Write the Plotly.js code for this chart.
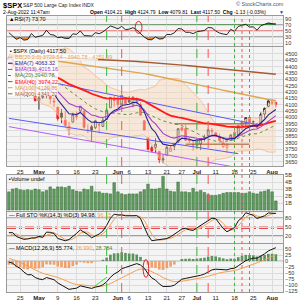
<!DOCTYPE html>
<html><head><meta charset="utf-8">
<script src="https://cdn.plot.ly/plotly-3.0.1.min.js"></script>
<style>html,body{margin:0;padding:0;background:#fff}#chart{width:300px;height:300px}</style>
</head><body><div id="chart"></div>
<script>
const dates = ['Apr 20','Apr 21','Apr 22','Apr 25','Apr 26','Apr 27','Apr 28','Apr 29',
'May 2','May 3','May 4','May 5','May 6','May 9','May 10','May 11','May 12','May 13','May 16','May 17','May 18','May 19','May 20','May 23','May 24','May 25','May 26','May 27','May 31',
'Jun 1','Jun 2','Jun 3','Jun 6','Jun 7','Jun 8','Jun 9','Jun 10','Jun 13','Jun 14','Jun 15','Jun 16','Jun 17','Jun 21','Jun 22','Jun 23','Jun 24','Jun 27','Jun 28','Jun 29','Jun 30',
'Jul 1','Jul 5','Jul 6','Jul 7','Jul 8','Jul 11','Jul 12','Jul 13','Jul 14','Jul 15','Jul 18','Jul 19','Jul 20','Jul 21','Jul 22','Jul 25','Jul 26','Jul 27','Jul 28','Jul 29',
'Aug 1','Aug 2'];
const openP = [4472,4489,4385,4255,4278,4187,4223,4253,4131,4159,4181,4270,4129,4081,4035,3978,3904,3963,4013,4052,4052,3899,3927,3920,3942,3929,3985,4077,4151,4150,4096,4137,4135,4097,4148,4102,3975,3839,3763,3764,3733,3665,3702,3733,3774,3804,3920,3913,3825,3785,3782,3792,3831,3858,3889,3880,3851,3771,3764,3818,3883,3860,3935,3955,4000,3965,3953,3951,4027,4087,4113,4104.21];
const highP = [4488,4512,4386,4299,4278,4240,4308,4270,4169,4200,4308,4270,4157,4082,4068,4050,3965,4038,4046,4089,4052,3945,3943,3981,3956,3999,4076,4158,4169,4167,4177,4142,4168,4164,4160,4119,3975,3839,3778,3838,3733,3708,3779,3784,3796,3913,3927,3945,3836,3818,3829,3832,3865,3910,3918,3880,3873,3839,3796,3864,3902,3939,3975,3999,4013,3975,3954,4040,4078,4141,4144,4124.79];
const lowP = [4448,4384,4267,4200,4175,4163,4188,4128,4062,4147,4152,4107,4081,3975,3958,3928,3859,3963,3983,4033,3912,3877,3810,3909,3875,3925,3985,4077,4083,4074,4074,4099,4110,4080,4107,4017,3901,3740,3725,3722,3640,3640,3702,3730,3742,3804,3889,3820,3799,3738,3752,3743,3811,3858,3869,3847,3813,3759,3721,3818,3818,3860,3930,3927,3939,3943,3911,3947,3992,4080,4097,4079.81];
const closeP = [4459,4393,4272,4297,4175,4183,4288,4132,4155,4175,4300,4147,4123,3991,4001,3935,3930,4024,4008,4089,3923,3901,3901,3974,3941,3979,4058,4158,4132,4101,4176,4109,4121,4161,4116,4018,3901,3750,3735,3790,3667,3675,3765,3760,3796,3912,3901,3821,3819,3785,3825,3831,3845,3903,3899,3855,3819,3801,3790,3863,3831,3937,3960,3999,3962,3967,3921,4024,4072,4130,4119,4117.5];
const prevClose = 4463;
const volumeB = [2.6,3.0,3.1,2.9,2.8,2.9,2.8,3.0,2.9,2.6,2.8,3.3,3.0,3.3,3.3,3.2,3.4,2.9,2.7,2.6,3.0,2.9,3.4,2.6,2.6,2.4,2.4,2.3,3.9,2.6,2.3,2.2,2.3,2.3,2.3,2.6,2.9,3.7,3.0,3.0,3.1,4.8,3.0,2.7,2.6,4.0,2.6,2.6,2.5,3.1,2.6,2.8,2.5,2.2,2.1,2.1,2.2,2.4,2.5,2.5,2.5,2.5,2.4,2.4,2.6,2.4,2.3,2.6,2.7,2.9,2.6,1.3];
const ema7 = [4437,4426,4388,4365,4318,4284,4285,4247,4224,4212,4234,4212,4190,4140,4105,4063,4029,4028,4023,4040,4010,3983,3963,3965,3959,3964,3988,4030,4056,4067,4094,4098,4104,4118,4118,4093,4045,3971,3912,3882,3828,3790,3784,3778,3783,3815,3837,3833,3829,3818,3820,3823,3829,3847,3860,3859,3849,3837,3825,3835,3834,3860,3885,3913,3925,3936,3932,3955,3984,4021,4045,4063];
const ema13 = [4464,4454,4428,4409,4376,4348,4340,4310,4288,4272,4276,4258,4238,4203,4174,4140,4110,4098,4085,4086,4062,4039,4019,4013,4003,4000,4008,4030,4044,4052,4070,4076,4082,4093,4096,4085,4059,4015,3975,3949,3908,3875,3859,3845,3838,3849,3856,3851,3846,3838,3836,3835,3837,3846,3854,3854,3849,3842,3835,3839,3838,3852,3867,3886,3897,3907,3909,3926,3947,3974,3996,4015];
const ma20 = [4497,4494,4482,4469,4449,4427,4411,4391,4372,4351,4340,4323,4305,4280,4259,4236,4210,4192,4173,4154,4127,4103,4084,4068,4056,4046,4034,4036,4035,4031,4025,4023,4023,4031,4037,4041,4040,4026,4012,3997,3985,3973,3966,3956,3948,3945,3937,3920,3905,3889,3871,3858,3844,3831,3820,3812,3808,3810,3813,3817,3825,3838,3848,3860,3868,3871,3872,3882,3895,3912,3926,3941];
const ema40 = [4427,4425,4418,4412,4400,4390,4385,4372,4362,4353,4350,4340,4329,4313,4298,4280,4263,4251,4239,4232,4217,4202,4187,4176,4165,4156,4151,4151,4150,4148,4149,4147,4147,4148,4146,4140,4130,4111,4093,4079,4059,4041,4028,4015,4005,4001,3997,3989,3981,3972,3965,3959,3954,3953,3950,3946,3941,3935,3928,3926,3922,3923,3925,3930,3932,3935,3935,3940,3947,3957,3966,3974];
const ma100 = [4500,4496,4492,4487,4483,4479,4474,4470,4466,4461,4457,4453,4448,4444,4440,4435,4431,4427,4422,4418,4414,4409,4405,4401,4396,4392,4388,4383,4379,4375,4370,4366,4362,4357,4353,4349,4345,4340,4334,4328,4321,4315,4309,4302,4296,4290,4284,4277,4271,4265,4258,4252,4246,4240,4233,4227,4221,4214,4208,4202,4196,4189,4183,4177,4170,4164,4158,4152,4145,4139,4135,4130];
const ma200 = [4487,4486,4485,4484,4483,4482,4481,4480,4479,4478,4477,4476,4475,4473,4472,4470,4469,4467,4466,4464,4463,4461,4460,4458,4457,4455,4454,4452,4451,4449,4448,4446,4445,4443,4441,4439,4437,4435,4433,4430,4428,4425,4423,4420,4418,4415,4412,4410,4407,4404,4401,4398,4395,4392,4389,4386,4383,4380,4377,4374,4371,4368,4365,4362,4359,4357,4354,4351,4349,4346,4344,4341];
const bbUpper = [4635,4644,4672,4679,4679,4661,4641,4631,4616,4595,4582,4563,4549,4540,4535,4548,4540,4516,4487,4444,4397,4379,4358,4328,4306,4286,4254,4236,4225,4213,4203,4199,4199,4209,4217,4221,4216,4226,4242,4247,4291,4303,4306,4306,4308,4307,4287,4256,4229,4201,4171,4134,4088,4039,3990,3954,3946,3944,3943,3945,3937,3942,3958,3984,3994,3999,3992,4014,4051,4096,4126,4152];
const bbLower = [4359,4344,4292,4259,4219,4193,4181,4151,4128,4107,4098,4083,4061,4020,3983,3924,3880,3868,3859,3864,3857,3827,3810,3808,3806,3806,3814,3836,3845,3849,3847,3847,3847,3853,3857,3861,3864,3826,3782,3747,3678,3643,3626,3606,3588,3583,3587,3584,3581,3577,3571,3581,3600,3623,3650,3670,3670,3676,3683,3689,3713,3734,3738,3736,3742,3743,3752,3750,3739,3728,3726,3730];
const rsi7 = [44.3,33.6,22.2,28.1,19.6,21.5,41.6,28.8,32.4,35.6,52.5,38.2,36.4,27.9,29.4,25.4,25.1,40.5,38.9,50.3,34.8,33.2,33.2,44.6,40.9,46.8,57.2,66.8,62.5,57.5,65.4,54.7,56.2,61.2,53.3,40.1,29.8,21.5,20.8,30.2,23.1,24.4,38.6,38.1,43.8,58.2,56.6,45.8,45.6,41.1,48.1,49.2,51.8,61.6,60.6,50.3,43.2,40.0,37.9,55.5,48.5,65.4,68.1,72.3,63.1,63.8,52.7,67.5,72.2,76.9,74.2,73.7];
const stoK = [31.0,31.3,18.2,12.9,8.9,10.3,13.5,13.8,18.9,15.6,32.9,32.3,28.5,11.8,8.1,4.1,8.4,18.0,28.6,40.4,32.9,25.0,14.0,20.2,26.6,36.7,55.4,79.2,92.9,90.3,90.2,87.4,88.6,87.3,87.9,78.6,49.6,22.5,4.4,6.5,7.4,8.8,11.6,17.4,25.0,34.4,43.6,45.4,40.7,38.5,47.1,55.5,63.5,72.0,79.4,78.0,63.1,44.9,34.2,41.5,47.8,70.5,80.8,97.7,92.2,88.9,78.4,82.6,87.3,96.9,96.6,95.0];
const stoD = [20.1,26.7,26.8,20.8,13.3,10.7,10.9,12.5,15.4,16.1,22.5,26.9,31.2,24.2,16.1,8.0,6.9,10.2,18.3,29.0,34.0,32.8,24.0,19.7,20.3,27.8,39.6,57.1,75.8,87.5,91.1,89.3,88.7,87.8,87.9,84.6,72.0,50.2,25.5,11.1,6.1,7.6,9.3,12.6,18.0,25.6,34.3,41.1,43.2,41.5,42.1,47.0,55.4,63.7,71.6,76.5,73.5,62.0,47.4,40.2,41.2,53.3,66.4,83.0,90.2,92.9,86.5,83.3,82.8,88.9,93.6,96.2];
const macdLine = [-4.3,-8.9,-22.2,-30.3,-46.1,-57.2,-56.9,-68.5,-74.9,-77.5,-68.7,-73.2,-77.8,-91.1,-99.6,-110.5,-118.1,-115.2,-113.0,-103.4,-108.0,-112.1,-114.1,-108.5,-105.5,-98.9,-86.4,-67.6,-54.1,-45.4,-32.1,-26.7,-21.2,-13.5,-10.8,-16.4,-30.0,-52.3,-70.3,-79.3,-95.3,-106.1,-106.1,-105.3,-100.6,-86.6,-75.5,-72.3,-69.1,-68.5,-64.1,-59.5,-54.1,-44.6,-36.9,-34.0,-34.3,-35.5,-36.9,-31.8,-29.9,-19.6,-9.6,1.6,7.3,12.1,12.0,20.1,30.1,42.1,50.2,55.8];
const macdSignal = [11.1,7.1,1.2,-5.1,-13.3,-22.1,-29.1,-37.0,-44.6,-51.2,-54.7,-58.4,-62.3,-68.1,-74.4,-81.6,-88.9,-94.2,-97.9,-99.0,-100.8,-103.1,-105.3,-105.9,-105.8,-104.4,-100.8,-94.2,-86.2,-78.0,-68.8,-60.4,-52.6,-44.7,-38.0,-33.7,-32.9,-36.8,-43.5,-50.7,-59.6,-68.9,-76.3,-82.1,-85.8,-86.0,-83.9,-81.6,-79.1,-77.0,-74.4,-71.4,-67.9,-63.3,-58.0,-53.2,-49.4,-46.6,-44.7,-42.1,-39.7,-35.7,-30.5,-24.0,-17.8,-11.8,-7.0,-1.6,4.7,12.2,19.8,27.0];
const macdHist = [-15.4,-16.0,-23.4,-25.2,-32.8,-35.1,-27.8,-31.5,-30.3,-26.3,-14.0,-14.8,-15.5,-23.0,-25.2,-28.9,-29.2,-21.0,-15.1,-4.4,-7.2,-9.0,-8.8,-2.6,0.3,5.5,14.4,26.6,32.1,32.6,36.7,33.7,31.4,31.2,27.2,17.3,2.9,-15.5,-26.8,-28.6,-35.7,-37.2,-29.8,-23.2,-14.8,-0.6,8.4,9.3,10.0,8.5,10.3,11.9,13.8,18.7,21.1,19.2,15.1,11.1,7.8,10.3,9.8,16.1,20.9,25.6,25.1,23.9,19.0,21.7,25.4,29.9,30.4,28.8];
const tickDates = ['Apr 25','May 2','May 9','May 16','May 23','Jun 1','Jun 6','Jun 13','Jun 21','Jun 27','Jul 1','Jul 11','Jul 18','Jul 25','Aug 1'];
const tickText = ['25','<b>May</b>','9','16','23','<b>Jun</b>','6','13','21','27','<b>Jul</b>','11','18','25','<b>Aug</b>'];
const markerDates = ['May 26','Jun 2','Jul 1','Jul 7','Jul 18','Jul 20','Jul 22'];
const markerColors = ['#3cb83c','#ff5050','#3cb83c','#ff5050','#3cb83c','#ff5050','#ff5050'];
const markerDash = ['dash','dash','dash','dash','dot','dot','dot'];
const chanUpperX = ['May 4','Jul 26'], chanUpperY = [4285, 3944];
const chanLowerX = ['Apr 20','Jul 19'], chanLowerY = [3993, 3715];
const chanPurpleX = ['Apr 20','Jul 18'], chanPurpleY = [3928, 3610];
const resistX = ['Jun 23','Jul 22'], resistY = [3950, 3950];
const supportX = ['Jun 28','Jul 22'], supportY = [3790, 3790];
const priceTicks = [3650,3700,3750,3800,3850,3900,3950,4000,4050,4100,4150,4200,4250,4300,4350,4400,4450,4500];

const N = dates.length;
const idx = d => dates.indexOf(d);
const xi = dates.map((d,i)=>i);
const tickvals = tickDates.map(idx);

const groups = {up:{x:[],o:[],h:[],l:[],c:[]}, dn:{x:[],o:[],h:[],l:[],c:[]}};
closeP.forEach((c,i)=>{const p = i?closeP[i-1]:prevClose; const g = c>=p?groups.up:groups.dn;
  g.x.push(i); g.o.push(openP[i]); g.h.push(highP[i]); g.l.push(lowP[i]); g.c.push(c);});
function candle(g,col){return {type:'candlestick',x:g.x,open:g.o,high:g.h,low:g.l,close:g.c,xaxis:'x2',yaxis:'y2',
  increasing:{line:{color:col,width:0.8},fillcolor:'#ffffff'},decreasing:{line:{color:col,width:0.8},fillcolor:col},
  whiskerwidth:0,hoverinfo:'skip',showlegend:false};}
function line(x,y,ax,col,w,dash,extra){return Object.assign({type:'scatter',mode:'lines',x:x,y:y,xaxis:'x'+ax,yaxis:'y'+ax,
  line:{color:col,width:w,dash:dash||'solid'},hoverinfo:'skip',showlegend:false},extra||{});}
const c30 = dates.map(()=>30), c70 = dates.map(()=>70);

const traces = [
  line(xi,c30,'', 'rgba(0,0,0,0)',0),
  line(xi,rsi7.map(v=>Math.min(v,30)),'','rgba(0,0,0,0)',0,null,{fill:'tonexty',fillcolor:'#e8862a'}),
  line(xi,c70,'', 'rgba(0,0,0,0)',0),
  line(xi,rsi7.map(v=>Math.max(v,70)),'','rgba(0,0,0,0)',0,null,{fill:'tonexty',fillcolor:'#3a8a3a'}),
  line(xi,rsi7,'','#111',0.9),
  line(xi,bbLower,2,'#f2b98c',0.8),
  line(xi,bbUpper,2,'#f2b98c',0.8,null,{fill:'tonexty',fillcolor:'rgba(250,215,185,0.45)'}),
  line(xi,ma200,2,'#a85a32',1.4),
  line(xi,ma100,2,'#dfa650',1.4),
  line(chanUpperX.map(idx),chanUpperY,2,'#5a5aff',1),
  line(chanLowerX.map(idx),chanLowerY,2,'#5a5aff',1),
  line(chanPurpleX.map(idx),chanPurpleY,2,'#b45cff',1),
  line(resistX.map(idx),resistY,2,'#a0522d',1),
  line(supportX.map(idx),supportY,2,'#a0522d',1),
  line(xi,ma20,2,'#4d8a3a',0.9,'dot'),
  line(xi,ema40,2,'#ff1a1a',1.8),
  line(xi,ema13,2,'#a040d0',1.1),
  line(xi,ema7,2,'#222299',1.1),
  candle(groups.up,'#000000'),
  candle(groups.dn,'#ee1c1c'),
  {type:'bar',x:xi,y:volumeB,xaxis:'x3',yaxis:'y3',marker:{color:'#5f9a5f',line:{color:'#3a6e3a',width:0.5}},hoverinfo:'skip',showlegend:false},
  line(xi,stoD,4,'#f4a050',1),
  line(xi,stoK,4,'#111',1),
  {type:'bar',x:xi,y:macdHist,xaxis:'x5',yaxis:'y5',marker:{color:macdHist.map(v=>v>=0?'#5c925c':'#f0a06a')},hoverinfo:'skip',showlegend:false},
  line(xi,macdSignal,5,'#f4a050',1),
  line(xi,macdLine,5,'#111',1),
];

const L=7,R=283,T=16,B=292;
const px = x=>(x-L)/(R-L), py = y=>(B-y)/(B-T);
const dom = (top,bot)=>[py(bot),py(top)];
const gridc = '#dcdcdc';
const xcommon = {range:[-0.5,72.9],tickvals:tickvals,ticktext:tickText,showgrid:true,gridcolor:gridc,gridwidth:1,zeroline:false,
  showline:true,mirror:true,linecolor:'#9a9a9a',linewidth:1,ticks:'',fixedrange:true,tickfont:{size:6,color:'#222'}};
const ycommon = {side:'right',showgrid:true,gridcolor:gridc,zeroline:false,showline:true,mirror:true,linecolor:'#9a9a9a',linewidth:1,
  ticks:'',tickfont:{size:5.5,color:'#333'},fixedrange:true};

const shapes = [];
function hline(ax,y,col,w,dash){shapes.push({type:'line',xref:'x'+ax+' domain',yref:'y'+ax,x0:0,x1:1,y0:y,y1:y,line:{color:col,width:w,dash:dash||'solid'},layer:'below'});}
hline('',70,'#666',1); hline('',30,'#666',1); hline('',50,'#e03030',1);
hline(4,80,'#777',1); hline(4,50,'#e05050',1,'dashdot'); hline(4,45,'#e05050',1,'dashdot'); hline(4,20,'#3a3ae0',1);
hline(5,0,'#999',0.8);
markerDates.forEach((d,k)=>shapes.push({type:'line',xref:'x2',yref:'paper',x0:idx(d),x1:idx(d),y0:0,y1:1,line:{color:markerColors[k],width:1,dash:markerDash[k]}}));
shapes.push({type:'circle',xref:'x',yref:'y',x0:33.6,x1:35.4,y0:42,y1:82,line:{color:'#e02020',width:1}});
shapes.push({type:'circle',xref:'x5',yref:'y5',x0:35.7,x1:37.2,y0:-68,y1:6,line:{color:'#e02020',width:1}});
shapes.push({type:'line',xref:'x5',yref:'y5',x0:22.9,x1:26.1,y0:-104,y1:-67,line:{color:'#33dd33',width:1}});
shapes.push({type:'rect',xref:'paper',yref:'paper',x0:px(7.5),x1:px(58),y0:py(96),y1:py(47.5),fillcolor:'rgba(255,255,255,0.8)',line:{width:0}});
shapes.push({type:'rect',xref:'paper',yref:'paper',x0:px(58),x1:px(98),y0:py(60.5),y1:py(54),fillcolor:'rgba(255,255,255,0.8)',line:{width:0}});

const ann = [];
function txt(x,y,t,size,col,extra){ann.push(Object.assign({xref:'paper',yref:'paper',x:px(x),y:py(y),text:t,showarrow:false,
  xanchor:'left',yanchor:'middle',font:{size:size,color:col||'#000'}},extra||{}));}
txt(1,5,'<b>$SPX</b>',7.5,'#000');
txt(21,5.5,'S&P 500 Large Cap Index',5,'#222');
txt(80,5.5,'INDX',5,'#222');
txt(234,4.5,'© StockCharts.com',5.5,'#555');
txt(1,12,'2-Aug-2022 11:47am',5,'#000');
txt(88,12,'<b>Open</b> 4104.21  <b>High</b> 4124.79  <b>Low</b> 4079.81  <b>Last</b> 4117.50  <b>Chg</b> -1.13 (-0.03%)',5,'#000');
txt(277,12,'▼',5,'#2233ee');
txt(7,19.5,'▲RSI(7) 73.70',5.5,'#000');
txt(8,50.5,'▪ $SPX (Daily) 4117.50',5.5,'#000');
const leg = [['BB(20,2.0) 3729.54 - 3940.78 - 4151.99','#e8a060'],['EMA(7) 4063.32','#222299'],['EMA(13) 4015.16','#9a40c8'],
  ['MA(20) 3940.78','#3d8a2a'],['EMA(40) 3974.22','#ff1a1a'],['MA(100) 4129.85','#d9a04a'],['MA(200) 4341.22','#a85a32']];
leg.forEach((l,k)=>{const y=57.2+k*6.1; txt(12.5,y,l[0],5.5,l[1]);
  shapes.push({type:'line',xref:'paper',yref:'paper',x0:px(8),x1:px(12.5),y0:py(y),y1:py(y),line:{color:l[1],width:1,dash:k===3?'dot':'solid'}});});
txt(7,178.5,'▪Volume undef',5.5,'#000');
txt(7,214.5,'— Full STO %K(14,3) %D(3) 94.98, <span style="color:#f0a050">96.15</span>',5.5,'#000');
txt(7,247.5,'— MACD(12,26,9) 55.774, <span style="color:#f0a050">26.990</span>, <span style="color:#4a8a4a">28.784</span>',5.5,'#000');

const layout = {width:300,height:300,margin:{l:L,r:300-R,t:T,b:300-B},paper_bgcolor:'#ffffff',plot_bgcolor:'#f4f4f4',
  showlegend:false,font:{family:'Liberation Sans, Arial, sans-serif',size:6,color:'#222'},bargap:0.3,
  xaxis:Object.assign({},xcommon,{anchor:'y',showticklabels:false}),
  xaxis2:Object.assign({},xcommon,{anchor:'y2',showticklabels:true,rangeslider:{visible:false}}),
  xaxis3:Object.assign({},xcommon,{anchor:'y3',showticklabels:false}),
  xaxis4:Object.assign({},xcommon,{anchor:'y4',showticklabels:false}),
  xaxis5:Object.assign({},xcommon,{anchor:'y5',showticklabels:true}),
  yaxis:Object.assign({},ycommon,{domain:dom(16,46),range:[0,100],tickvals:[10,30,50,70,90]}),
  yaxis2:Object.assign({},ycommon,{domain:dom(47,166),range:[3618,4555],tickvals:priceTicks}),
  yaxis3:Object.assign({},ycommon,{domain:dom(175,211),range:[-0.14,5.0],tickvals:[1,2,3,4,5],ticktext:['1B','2B','3B','4B','5B']}),
  yaxis4:Object.assign({},ycommon,{domain:dom(212,243),range:[-3.3,100],tickvals:[20,50,80]}),
  yaxis5:Object.assign({},ycommon,{domain:dom(244,292),range:[-129,71],tickvals:[-125,-100,-75,-50,-25,0,25,50]}),
  shapes:shapes,annotations:ann};
Plotly.newPlot('chart',traces,layout,{staticPlot:true,displayModeBar:false});
</script></body></html>
